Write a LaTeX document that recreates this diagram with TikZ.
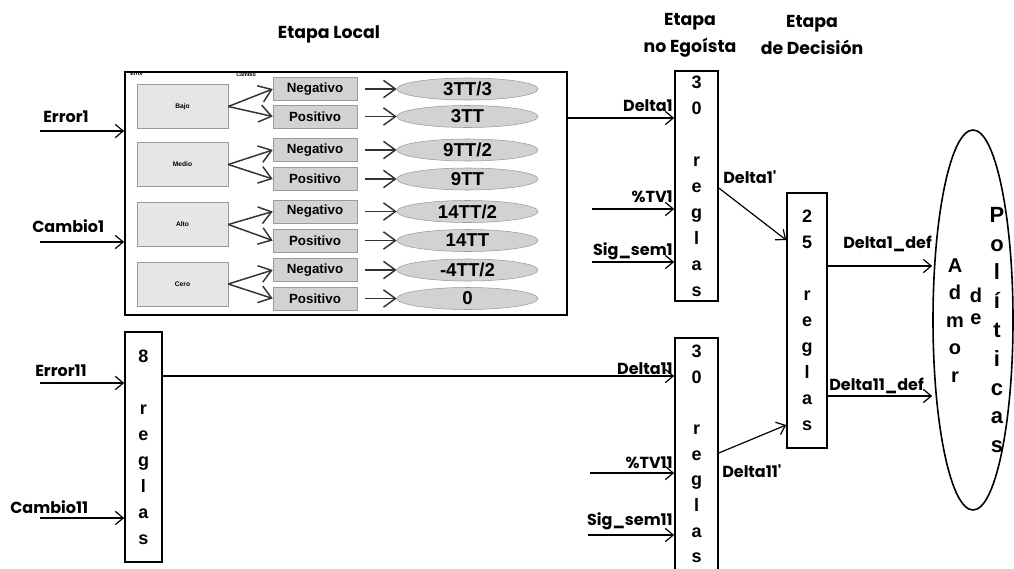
\documentclass[tikz,border=0pt]{standalone}
\usepackage{fontspec}
\usetikzlibrary{arrows.meta,shapes.geometric,calc}
\newfontfamily\gothic{Poppins}
\newfontfamily\arialf{Liberation Sans}
\definecolor{boxgray}{HTML}{D2D2D2}
\definecolor{lightgray2}{HTML}{E6E6E6}
\definecolor{edgegray}{HTML}{9A9A9A}
\begin{document}
\begin{tikzpicture}[x=0.75pt,y=-0.75pt,
 arr/.style={draw=black, line width=0.9pt, -{Straight Barb[length=6pt,width=10pt,line width=0.9pt]}},
 farr/.style={draw=black!80, line width=1.1pt, -{Straight Barb[length=9pt,width=13pt,line width=1.1pt]}},
 lab/.style={font=\gothic\bfseries\fontsize{12}{14}\selectfont, inner sep=0pt},
 ttl/.style={font=\gothic\bfseries\fontsize{13}{20.25}\selectfont, align=center, inner sep=0pt},
 vbox/.style={draw, line width=1.2pt, align=center, inner sep=0pt, font=\arialf\bfseries\fontsize{13.5}{19.5}\selectfont},
 lvl/.style={draw=edgegray, fill=lightgray2, minimum width=68.25pt, minimum height=33pt, inner sep=0pt, font=\arialf\bfseries\fontsize{5}{6}\selectfont},
 sgn/.style={draw=edgegray, fill=boxgray, minimum width=63pt, minimum height=17.25pt, inner sep=0pt, font=\arialf\bfseries\fontsize{10}{12}\selectfont},
 val/.style={ellipse, draw=edgegray, fill=boxgray, minimum width=105.75pt, minimum height=16.5pt, inner sep=0pt, font=\arialf\bfseries\fontsize{14}{16}\selectfont},
 tiny/.style={font=\arialf\bfseries\fontsize{4}{5}\selectfont, inner sep=0pt, anchor=north west},
 col/.style={align=center, inner sep=0pt},
]
\fill[white] (0,0) rectangle (1014,568);
\useasboundingbox (0,0) rectangle (1014,568);

% titles
\node[ttl] (tloc) at (329,34) {Etapa Local};
\node[ttl] (tneg) at (690,35) {Etapa\\no Egoísta};
\node[ttl] (tdec) at (812,35) {Etapa\\de Decisión};

% local stage
\node[draw, line width=1.3pt, minimum width=331.5pt, minimum height=182.25pt, inner sep=0pt] (local) at (346,193.5) {};
\node[tiny] (errl) at (130,72) {Error};
\node[tiny] (caml) at (236,72) {Cambio};

\node[lvl] (bajo) at (182.5,106.5) {Bajo};
\node[sgn] (bneg) at (315,89) {Negativo};
\node[sgn] (bpos) at (315,116.5) {Positivo};
\node[val] (bnv) at (467.5,89) {3TT/3};
\node[val] (bpv) at (467.5,116.5) {3TT};

\node[lvl] (medio) at (182.5,164.5) {Medio};
\node[sgn] (mneg) at (315,150) {Negativo};
\node[sgn] (mpos) at (315,179) {Positivo};
\node[val] (mnv) at (467.5,150) {9TT/2};
\node[val] (mpv) at (467.5,179) {9TT};

\node[lvl] (alto) at (182.5,224.5) {Alto};
\node[sgn] (aneg) at (315,211.5) {Negativo};
\node[sgn] (apos) at (315,240.5) {Positivo};
\node[val] (anv) at (467.5,211.5) {14TT/2};
\node[val] (apv) at (467.5,240.5) {14TT};

\node[lvl] (cero) at (182.5,284) {Cero};
\node[sgn] (cneg) at (315,270) {Negativo};
\node[sgn] (cpos) at (315,298.5) {Positivo};
\node[val] (cnv) at (467.5,270) {-4TT/2};
\node[val] (cpv) at (467.5,298.5) {0};

\foreach \g/\n/\p in {bajo/bneg/bpos, medio/mneg/mpos, alto/aneg/apos, cero/cneg/cpos}{
  \draw[farr] (\g.east) -- (\n.west);
  \draw[farr] (\g.east) -- (\p.west);
}
\foreach \s/\v in {bneg/bnv, bpos/bpv, mneg/mnv, mpos/mpv, aneg/anv, apos/apv, cneg/cnv, cpos/cpv}{
  \draw[farr, shorten <=6pt] (\s.east) -- (\v.west);
}

% inputs of local stage
\coordinate (e1) at (40,131);
\coordinate (c1) at (40,242);
\draw[arr] (e1) -- (e1 -| local.west);
\draw[arr] (c1) -- (c1 -| local.west);
\node[lab, anchor=base west] (le1) at (43,122) {Error1};
\node[lab, anchor=base west] (lc1) at (32,232) {Cambio1};

% 8 reglas box
\node[vbox, minimum width=27.75pt, minimum height=172.5pt] (r8) at (143.5,447) {8\\~\\r\\e\\g\\l\\a\\s};
\coordinate (e11) at (40,383);
\coordinate (c11) at (40,518);
\draw[arr] (e11) -- (e11 -| r8.west);
\draw[arr] (c11) -- (c11 -| r8.west);
\node[lab, anchor=base west] (le11) at (35,376) {Error11};
\node[lab, anchor=base west] (lc11) at (10,513) {Cambio11};

% non-selfish stage
\node[vbox, minimum width=32.25pt, minimum height=172.5pt] (ne1) at (696.5,186) {3\\0\\~\\r\\e\\g\\l\\a\\s};
\node[draw, line width=1.2pt, minimum width=32.25pt, minimum height=181.5pt, inner sep=0pt] (ne2) at (696.5,459) {};
\node[col, font=\arialf\bfseries\fontsize{13.5}{19.2}\selectfont] (ne2t) at (696.5,454) {3\\0\\~\\r\\e\\g\\l\\a\\s};

\draw[arr] (local.east |- 0,118) -- (ne1.west |- 0,118);
\node[lab, anchor=base east] (ld1) at (673,111) {Delta1};
\coordinate (tv1) at (592,209);
\coordinate (sg1) at (592,262);
\draw[arr] (tv1) -- (tv1 -| ne1.west);
\draw[arr] (sg1) -- (sg1 -| ne1.west);
\node[lab, anchor=base east] (ltv1) at (673,202) {\%TV1};
\node[lab, anchor=base east] (lsg1) at (673,255) {Sig\_sem1};

\draw[arr] (r8.east |- 0,376) -- (ne2.west |- 0,376);
\node[lab, anchor=base east] (ld11) at (673,374) {Delta11};
\coordinate (tv11) at (590,473);
\coordinate (sg11) at (588,535);
\draw[arr] (tv11) -- (tv11 -| ne2.west);
\draw[arr] (sg11) -- (sg11 -| ne2.west);
\node[lab, anchor=base east] (ltv11) at (673,468) {\%TV11};
\node[lab, anchor=base east] (lsg11) at (673,525) {Sig\_sem11};

% decision stage
\node[vbox, minimum width=30pt, minimum height=191.25pt] (dec) at (807,320.5) {2\\5\\~\\r\\e\\g\\l\\a\\s};
\draw[arr] (ne1.east |- 0,188) -- (dec.west |- 0,240);
\node[lab, anchor=base west] (ld1p) at (723,183) {Delta1'};
\draw[arr] (ne2.east |- 0,453) -- (dec.west |- 0,425);
\node[lab, anchor=base west] (ld11p) at (722,477) {Delta11'};

% admin ellipse
\node[ellipse, draw, line width=1.2pt, minimum width=60pt, minimum height=285pt, inner sep=0pt] (adm) at (973,320) {};
\draw[arr] (dec.east |- 0,266) -- (adm.west |- 0,266);
\draw[arr] (dec.east |- 0,396) -- (adm.west |- 0,396);
\node[lab, anchor=base west] (ldd1) at (843,248) {Delta1\_def};
\node[lab, anchor=base west] (ldd11) at (829,390) {Delta11\_def};

\node[col, font=\arialf\bfseries\fontsize{15}{20.6}\selectfont] (cadm) at (955,320.5) {A\\d\\m\\o\\r};
\node[col, font=\arialf\bfseries\fontsize{15}{16.5}\selectfont] (cde) at (976,306) {d\\e};
\node[col, font=\arialf\bfseries\fontsize{16.5}{21.6}\selectfont] (cpol) at (997,330) {P\\o\\l\\í\\t\\i\\c\\a\\s};
\end{tikzpicture}
\end{document}
